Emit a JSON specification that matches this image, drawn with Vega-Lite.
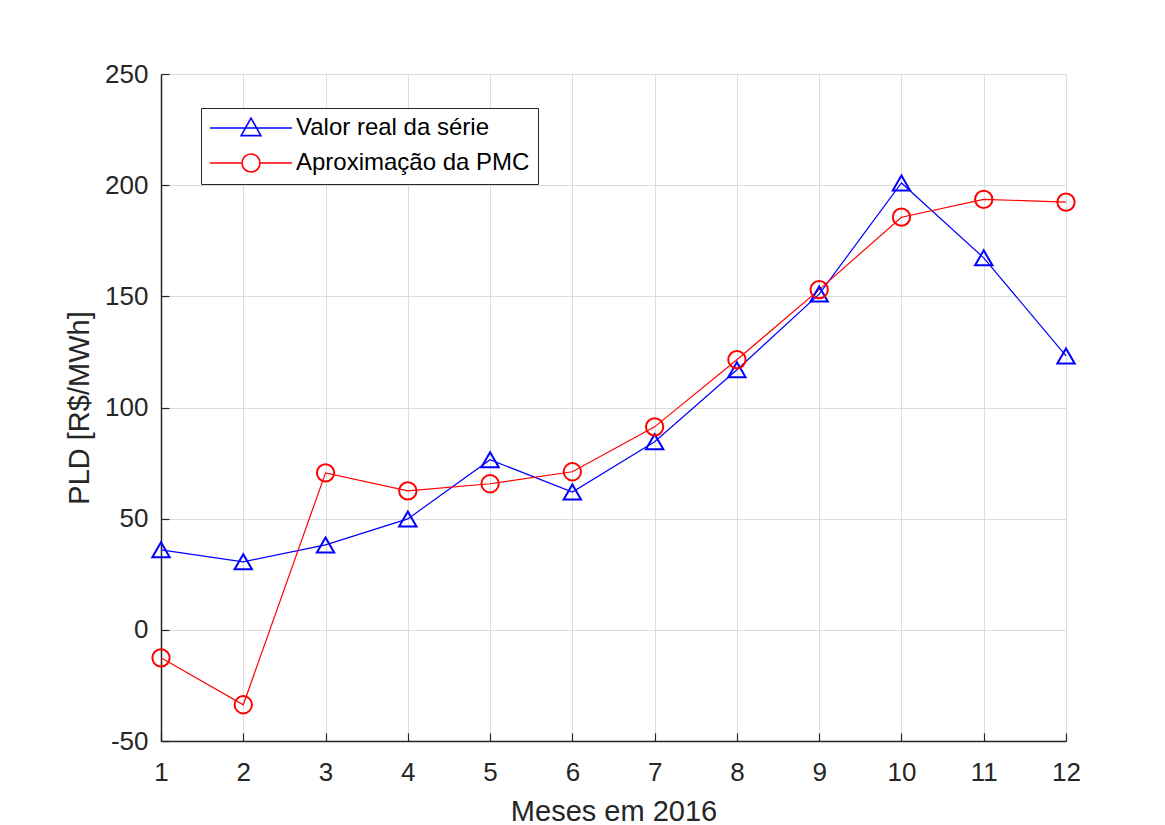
{
  "$schema": "https://vega.github.io/schema/vega-lite/v6.json",
  "width": 905,
  "height": 667,
  "autosize": {"type": "none"},
  "padding": {"left": 161, "top": 74, "right": 99, "bottom": 84},
  "background": "white",
  "config": {
    "view": {"stroke": null},
    "font": "Liberation Sans"
  },
  "data": {
    "values": [
      {"mes": 1, "serie": "Valor real da série", "pld": 36.0},
      {"mes": 2, "serie": "Valor real da série", "pld": 30.6},
      {"mes": 3, "serie": "Valor real da série", "pld": 38.2},
      {"mes": 4, "serie": "Valor real da série", "pld": 49.9},
      {"mes": 5, "serie": "Valor real da série", "pld": 76.5},
      {"mes": 6, "serie": "Valor real da série", "pld": 62.0},
      {"mes": 7, "serie": "Valor real da série", "pld": 84.6},
      {"mes": 8, "serie": "Valor real da série", "pld": 117.0},
      {"mes": 9, "serie": "Valor real da série", "pld": 151.0},
      {"mes": 10, "serie": "Valor real da série", "pld": 201.0},
      {"mes": 11, "serie": "Valor real da série", "pld": 167.3},
      {"mes": 12, "serie": "Valor real da série", "pld": 123.2},
      {"mes": 1, "serie": "Aproximação da PMC", "pld": -12.6},
      {"mes": 2, "serie": "Aproximação da PMC", "pld": -33.7},
      {"mes": 3, "serie": "Aproximação da PMC", "pld": 70.6},
      {"mes": 4, "serie": "Aproximação da PMC", "pld": 62.5},
      {"mes": 5, "serie": "Aproximação da PMC", "pld": 65.7},
      {"mes": 6, "serie": "Aproximação da PMC", "pld": 71.1},
      {"mes": 7, "serie": "Aproximação da PMC", "pld": 91.3},
      {"mes": 8, "serie": "Aproximação da PMC", "pld": 121.5},
      {"mes": 9, "serie": "Aproximação da PMC", "pld": 153.0},
      {"mes": 10, "serie": "Aproximação da PMC", "pld": 185.6},
      {"mes": 11, "serie": "Aproximação da PMC", "pld": 193.6},
      {"mes": 12, "serie": "Aproximação da PMC", "pld": 192.4}
    ]
  },
  "encoding": {
    "x": {
      "field": "mes",
      "type": "quantitative",
      "scale": {"domain": [1, 12], "nice": false, "zero": false},
      "axis": {
        "title": "Meses em 2016",
        "values": [1, 2, 3, 4, 5, 6, 7, 8, 9, 10, 11, 12],
        "format": "d",
        "labelFlush": false,
        "grid": true,
        "gridColor": "#dcdcdc",
        "gridWidth": 1,
        "domainColor": "#262626",
        "domainWidth": 1.5,
        "tickColor": "#262626",
        "tickSize": -8,
        "tickWidth": 1.2,
        "labelFontSize": 26,
        "labelColor": "#262626",
        "labelPadding": 26,
        "titleFontSize": 29,
        "titleFontWeight": "normal",
        "titleColor": "#262626",
        "titlePadding": 12
      }
    },
    "y": {
      "field": "pld",
      "type": "quantitative",
      "scale": {"domain": [-50, 250], "nice": false, "zero": false},
      "axis": {
        "title": "PLD [R$/MWh]",
        "values": [-50, 0, 50, 100, 150, 200, 250],
        "labelExpr": "datum.value < 0 ? '-' + abs(datum.value) : '' + datum.value",
        "labelFlush": false,
        "grid": true,
        "gridColor": "#dcdcdc",
        "gridWidth": 1,
        "domainColor": "#262626",
        "domainWidth": 1.5,
        "tickColor": "#262626",
        "tickSize": -8,
        "tickWidth": 1.2,
        "labelFontSize": 26,
        "labelColor": "#262626",
        "labelPadding": 21,
        "titleFontSize": 29,
        "titleFontWeight": "normal",
        "titleColor": "#262626",
        "titlePadding": 10
      }
    }
  },
  "layer": [
    {
      "mark": {"type": "line", "strokeWidth": 1.2},
      "encoding": {
        "color": {
          "field": "serie",
          "type": "nominal",
          "scale": {"domain": ["Valor real da série", "Aproximação da PMC"], "range": ["#0000ff", "#ff0000"]},
          "legend": null
        }
      }
    },
    {
      "mark": {"type": "point", "filled": false, "strokeWidth": 2, "size": 300, "opacity": 1},
      "encoding": {
        "color": {
          "field": "serie",
          "type": "nominal",
          "scale": {"domain": ["Valor real da série", "Aproximação da PMC"], "range": ["#0000ff", "#ff0000"]},
          "legend": null
        },
        "shape": {
          "field": "serie",
          "type": "nominal",
          "scale": {"domain": ["Valor real da série", "Aproximação da PMC"], "range": ["triangle-up", "circle"]},
          "legend": null
        }
      }
    },
    {
      "mark": {"type": "point", "filled": false, "strokeWidth": 1.6, "size": 324, "opacity": 0},
      "encoding": {
        "color": {
          "field": "serie",
          "type": "nominal",
          "scale": {"domain": ["Valor real da série", "Aproximação da PMC"], "range": ["#0000ff", "#ff0000"]},
          "legend": {
            "title": null,
            "orient": "none",
            "legendX": 40,
            "legendY": 34,
            "strokeColor": "#262626",
            "fillColor": "white",
            "padding": 8,
            "labelFontSize": 24,
            "labelColor": "black",
            "labelLimit": 500,
            "rowPadding": 10,
            "symbolSize": 324,
            "symbolOpacity": 1,
            "symbolStrokeWidth": 1.6,
            "symbolOffset": 30,
            "labelOffset": 33
          }
        },
        "shape": {
          "field": "serie",
          "type": "nominal",
          "scale": {
            "domain": ["Valor real da série", "Aproximação da PMC"],
            "range": ["M-4.55,0L4.55,0M0,-1.1L1.1,0.85L-1.1,0.85Z", "M-4.55,0L-1,0M1,0L4.55,0M-1,0A1,1 0 1,1 1,0A1,1 0 1,1 -1,0Z"]
          },
          "legend": {
            "title": null,
            "orient": "none",
            "legendX": 40,
            "legendY": 34,
            "strokeColor": "#262626",
            "fillColor": "white",
            "padding": 8,
            "labelFontSize": 24,
            "labelColor": "black",
            "labelLimit": 500,
            "rowPadding": 10,
            "symbolSize": 324,
            "symbolOpacity": 1,
            "symbolStrokeWidth": 1.6,
            "symbolOffset": 30,
            "labelOffset": 33
          }
        }
      }
    }
  ],
  "resolve": {
    "scale": {"shape": "independent"},
    "legend": {"color": "independent", "shape": "independent"}
  }
}
